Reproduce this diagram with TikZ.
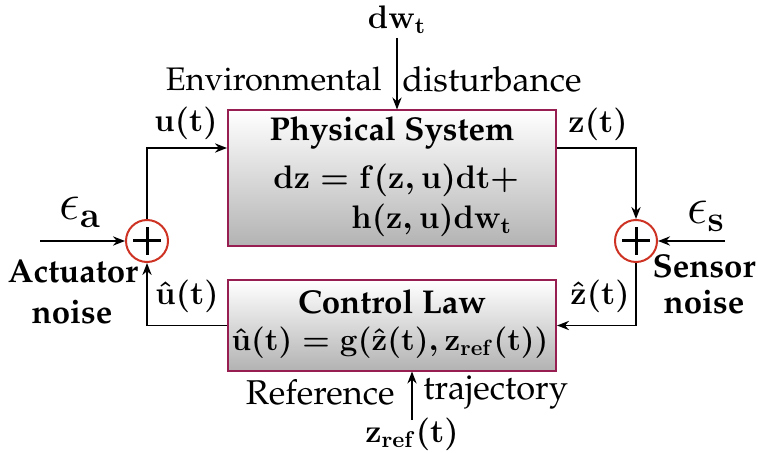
\documentclass[tikz,border=0pt]{standalone}
\usepackage{fix-cm}
\usepackage[T1]{fontenc}
\usepackage{palatino}
\usetikzlibrary{arrows.meta}
\definecolor{boxedge}{RGB}{150,30,80}
\definecolor{sumedge}{RGB}{205,50,35}
% equations set in bold math
\newcommand{\eqDynA}{\ensuremath{\mathbf{dz}=\mathbf{f}(\mathbf{z},\mathbf{u})\mathbf{dt}+}}
\newcommand{\eqDynB}{\ensuremath{\mathbf{h}(\mathbf{z},\mathbf{u})\mathbf{d}\mathbf{w}_{\mathbf{t}}}}
\newcommand{\eqLaw}{\ensuremath{\hat{\mathbf{u}}(\mathbf{t})=\mathbf{g}(\hat{\mathbf{z}}(\mathbf{t}),\mathbf{z}_{\mathbf{ref}}(\mathbf{t}))}}
\begin{document}
\begin{tikzpicture}[x=0.5pt,y=-0.5pt,
  every node/.style={font=\fontsize{16.5}{19}\selectfont, inner sep=0pt},
  mathlbl/.style={font=\fontsize{16.3}{19}\selectfont\boldmath},
  lawlbl/.style={font=\fontsize{15.7}{19}\selectfont\boldmath},
  txt/.style={font=\fontsize{17.2}{20}\selectfont},
  envtxt/.style={font=\fontsize{16.3}{20}\selectfont},
  blockbox/.style={draw=boxedge, line width=1pt, top color=white, bottom color=black!30, rectangle},
  sumnode/.style={circle, draw=sumedge, line width=1pt, fill=white, minimum size=21pt},
  sig/.style={line width=0.9pt, -{Stealth[length=6pt,width=4.6pt]}},
  boldlbl/.style={font=\fontsize{16.5}{19}\selectfont\bfseries},
  eps/.style={font=\fontsize{26}{30}\selectfont}]
  \useasboundingbox (0,0) rectangle (758,453);

  % blocks
  \node[blockbox, minimum width=164pt, minimum height=68pt] (phys) at (392,178.5) {};
  \node[blockbox, minimum width=164pt, minimum height=45pt] (ctrl) at (392,325.5) {};

  % block contents
  \node[boldlbl] (physT) at (392,133) {Physical System};
  \node[mathlbl, anchor=west] (eqA) at (273,180) {\eqDynA};
  \node[mathlbl, anchor=west] (eqB) at (351,220) {\eqDynB};
  \node[boldlbl] (ctrlT) at (392,302) {Control Law};
  \node[lawlbl] (eqC) at (390,343) {\eqLaw};

  % summing junctions
  \node[sumnode] (sumA) at (147,241) {};
  \node[sumnode] (sumS) at (636,241) {};
  \foreach \s in {sumA,sumS}{
    \draw[line width=1.5pt] ([xshift=-7pt]\s.center) -- ([xshift=7pt]\s.center);
    \draw[line width=1.5pt] ([yshift=-7pt]\s.center) -- ([yshift=7pt]\s.center);
  }

  % free ends
  \coordinate (uin) at (228,148);
  \coordinate (zout) at (556,148);
  \coordinate (eaIn) at (40,241);
  \coordinate (esIn) at (725,241);
  \coordinate (dwIn) at (397,38);
  \coordinate (zrIn) at (412,420);

  % signal paths
  \draw[sig] (sumA.north) |- (uin -| phys.west);
  \draw[sig] (zout -| phys.east) -| (sumS.north);
  \draw[sig] (eaIn) -- (sumA.west);
  \draw[sig] (esIn) -- (sumS.east);
  \draw[sig] (sumS.south) |- (ctrl.east);
  \draw[sig] (ctrl.west) -| (sumA.south);
  \draw[sig] (dwIn) -- (dwIn |- phys.north);
  \draw[sig] (zrIn) -- (zrIn |- ctrl.south);

  % labels
  \node[mathlbl] (dwL) at (397,20) {\ensuremath{\mathbf{d}\mathbf{w}_{\mathbf{t}}}};
  \node[envtxt, anchor=east] (envL) at (382,79) {Environmental};
  \node[txt, anchor=west] (distL) at (402,79) {disturbance};
  \node[mathlbl] (uL) at (186,123) {\ensuremath{\mathbf{u}(\mathbf{t})}};
  \node[mathlbl] (zL) at (598,124) {\ensuremath{\mathbf{z}(\mathbf{t})}};
  \node[mathlbl] (uhL) at (187,296) {\ensuremath{\hat{\mathbf{u}}(\mathbf{t})}};
  \node[mathlbl] (zhL) at (600,296) {\ensuremath{\hat{\mathbf{z}}(\mathbf{t})}};
  \node[eps] (eaL) at (80,212) {\ensuremath{\epsilon_{\mathbf{a}}}};
  \node[eps] (esL) at (706,216) {\ensuremath{\epsilon_{\mathbf{s}}}};
  \node[boldlbl] (actL) at (73,271) {Actuator};
  \node[boldlbl] (actL2) at (72,312) {noise};
  \node[boldlbl] (senL) at (704,266) {Sensor};
  \node[boldlbl] (senL2) at (704,302) {noise};
  \node[txt, anchor=east] (refL) at (395,392) {Reference};
  \node[txt, anchor=west] (trajL) at (423,392) {trajectory};
  \node[mathlbl] (zrL) at (412,434) {\ensuremath{\mathbf{z}_{\mathbf{ref}}(\mathbf{t})}};
\end{tikzpicture}
\end{document}
